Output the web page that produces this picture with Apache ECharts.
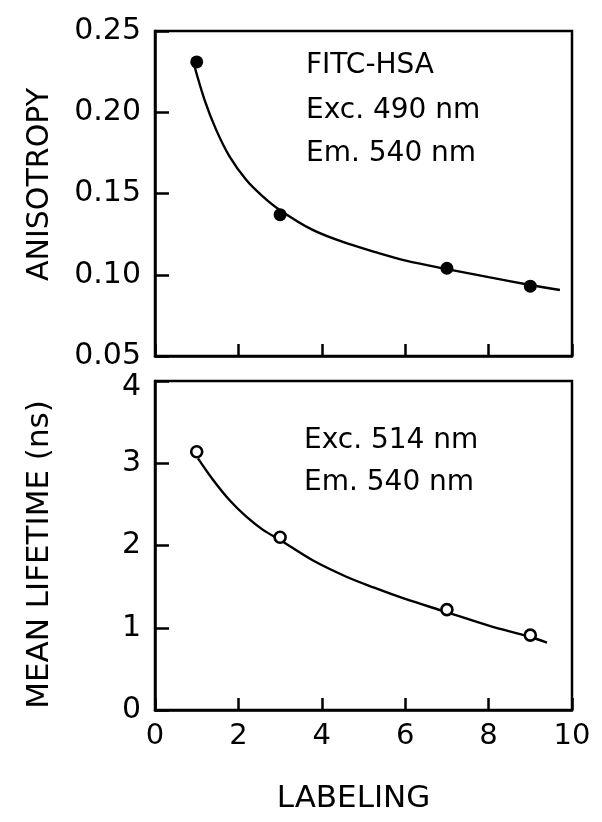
<!DOCTYPE html>
<html>
<head>
<meta charset="utf-8">
<script src="https://cdn.jsdelivr.net/npm/echarts@6/dist/echarts.min.js"></script>
<style>html,body{margin:0;padding:0;background:#fff;}#c{width:602px;height:822px;}</style>
</head>
<body>
<div id="c"></div>
<script>
// Data
var labeling = [1, 3, 7, 9];
var anisotropy = [0.231, 0.137, 0.104, 0.093];
var lifetime = [3.14, 2.10, 1.22, 0.91];
var anisoCurveX = [0.95, 1.19, 1.47, 1.79, 2.19, 2.59, 2.99, 3.78, 4.59, 5.38, 6.04, 7.0, 8.0, 9.0, 9.71];
var anisoCurveY = [0.228, 0.2075, 0.189, 0.1727, 0.1583, 0.1481, 0.1399, 0.1276, 0.1194, 0.1132, 0.1085, 0.1035, 0.0985, 0.0937, 0.0906];
var lifeCurveX = [1.03, 1.39, 1.79, 2.19, 2.59, 2.99, 3.78, 4.59, 5.24, 6.0, 6.93, 8.04, 8.92, 9.4];
var lifeCurveY = [3.06, 2.80, 2.55, 2.35, 2.19, 2.07, 1.82, 1.62, 1.49, 1.35, 1.20, 1.02, 0.90, 0.82];
var xTicks = [0, 2, 4, 6, 8, 10];
var anisoTicks = [0.05, 0.10, 0.15, 0.20, 0.25];
var lifeTicks = [0, 1, 2, 3, 4];

function zip(a, b) { return a.map(function (v, i) { return [v, b[i]]; }); }

var FONT = 'DejaVu Sans';
var chart = echarts.init(document.getElementById('c'), null, {renderer: 'canvas'});
var axisLine = {show: true, lineStyle: {color: '#000', width: 2.5}};

chart.setOption({
  backgroundColor: '#fff',
  animation: false,
  grid: [
    {left: 155, right: 30, top: 31, height: 325, show: true, borderColor: '#000', borderWidth: 2.5},
    {left: 155, right: 30, top: 381, height: 329, show: true, borderColor: '#000', borderWidth: 2.5}
  ],
  xAxis: [
    {gridIndex: 0, type: 'value', min: xTicks[0], max: xTicks[xTicks.length - 1], interval: 2,
     axisLine: axisLine, axisTick: {show: true, inside: true, length: 12, lineStyle: {color: '#000', width: 2.5}},
     axisLabel: {show: false}, splitLine: {show: false}},
    {gridIndex: 1, type: 'value', min: xTicks[0], max: xTicks[xTicks.length - 1], interval: 2,
     axisLine: axisLine, axisTick: {show: true, inside: true, length: 12, lineStyle: {color: '#000', width: 2.5}},
     axisLabel: {show: true, color: '#000', fontFamily: FONT, fontSize: 29, margin: 12},
     splitLine: {show: false},
     name: 'LABELING', nameLocation: 'middle', nameGap: 73,
     nameTextStyle: {color: '#000', fontFamily: FONT, fontSize: 31, padding: [0, 20, 0, 0]}}
  ],
  yAxis: [
    {gridIndex: 0, type: 'value', min: anisoTicks[0], max: anisoTicks[anisoTicks.length - 1], interval: 0.05,
     axisLine: axisLine, axisTick: {show: true, inside: true, length: 14, lineStyle: {color: '#000', width: 2.5}},
     axisLabel: {color: '#000', fontFamily: FONT, fontSize: 30, margin: 14,
                 formatter: function (v) { return v.toFixed(2); }},
     splitLine: {show: false},
     name: 'ANISOTROPY', nameLocation: 'middle', nameGap: 100,
     nameTextStyle: {color: '#000', fontFamily: FONT, fontSize: 30, padding: [0, 0, 0, 18]}},
    {gridIndex: 1, type: 'value', min: lifeTicks[0], max: lifeTicks[lifeTicks.length - 1], interval: 1,
     axisLine: axisLine, axisTick: {show: true, inside: true, length: 14, lineStyle: {color: '#000', width: 2.5}},
     axisLabel: {color: '#000', fontFamily: FONT, fontSize: 30, margin: 14,
                 formatter: function (v) { return v === 4 ? '{d|4}' : String(v); },
                 rich: {d: {fontFamily: FONT, fontSize: 30, color: '#000', padding: [12, 0, 0, 0]}}},
     splitLine: {show: false},
     name: 'MEAN LIFETIME (ns)', nameLocation: 'middle', nameGap: 100,
     nameTextStyle: {color: '#000', fontFamily: FONT, fontSize: 31, padding: [0, 18, 0, 0]}}
  ],
  series: [
    {type: 'line', xAxisIndex: 0, yAxisIndex: 0, data: zip(anisoCurveX, anisoCurveY), smooth: 0.3,
     showSymbol: false, symbol: 'none', lineStyle: {color: '#000', width: 2.4}, z: 2},
    {type: 'scatter', xAxisIndex: 0, yAxisIndex: 0, data: zip(labeling, anisotropy), symbol: 'circle', symbolSize: 13,
     itemStyle: {color: '#000', opacity: 1}, z: 3},
    {type: 'line', xAxisIndex: 1, yAxisIndex: 1, data: zip(lifeCurveX, lifeCurveY), smooth: 0.3,
     showSymbol: false, symbol: 'none', lineStyle: {color: '#000', width: 2.4}, z: 2},
    {type: 'scatter', xAxisIndex: 1, yAxisIndex: 1, data: zip(labeling, lifetime), symbol: 'circle', symbolSize: 11,
     itemStyle: {color: '#fff', borderColor: '#000', borderWidth: 2.6, opacity: 1}, z: 3}
  ],
  graphic: [
    {type: 'text', left: 306, top: 52, style: {text: 'FITC-HSA', font: '28px "DejaVu Sans"', fill: '#000'}},
    {type: 'text', left: 306, top: 97, style: {text: 'Exc. 490 nm', font: '28px "DejaVu Sans"', fill: '#000'}},
    {type: 'text', left: 306, top: 140, style: {text: 'Em. 540 nm', font: '28px "DejaVu Sans"', fill: '#000'}},
    {type: 'text', left: 304, top: 427, style: {text: 'Exc. 514 nm', font: '28px "DejaVu Sans"', fill: '#000'}},
    {type: 'text', left: 304, top: 469, style: {text: 'Em. 540 nm', font: '28px "DejaVu Sans"', fill: '#000'}}
  ]
});
</script>
</body>
</html>
